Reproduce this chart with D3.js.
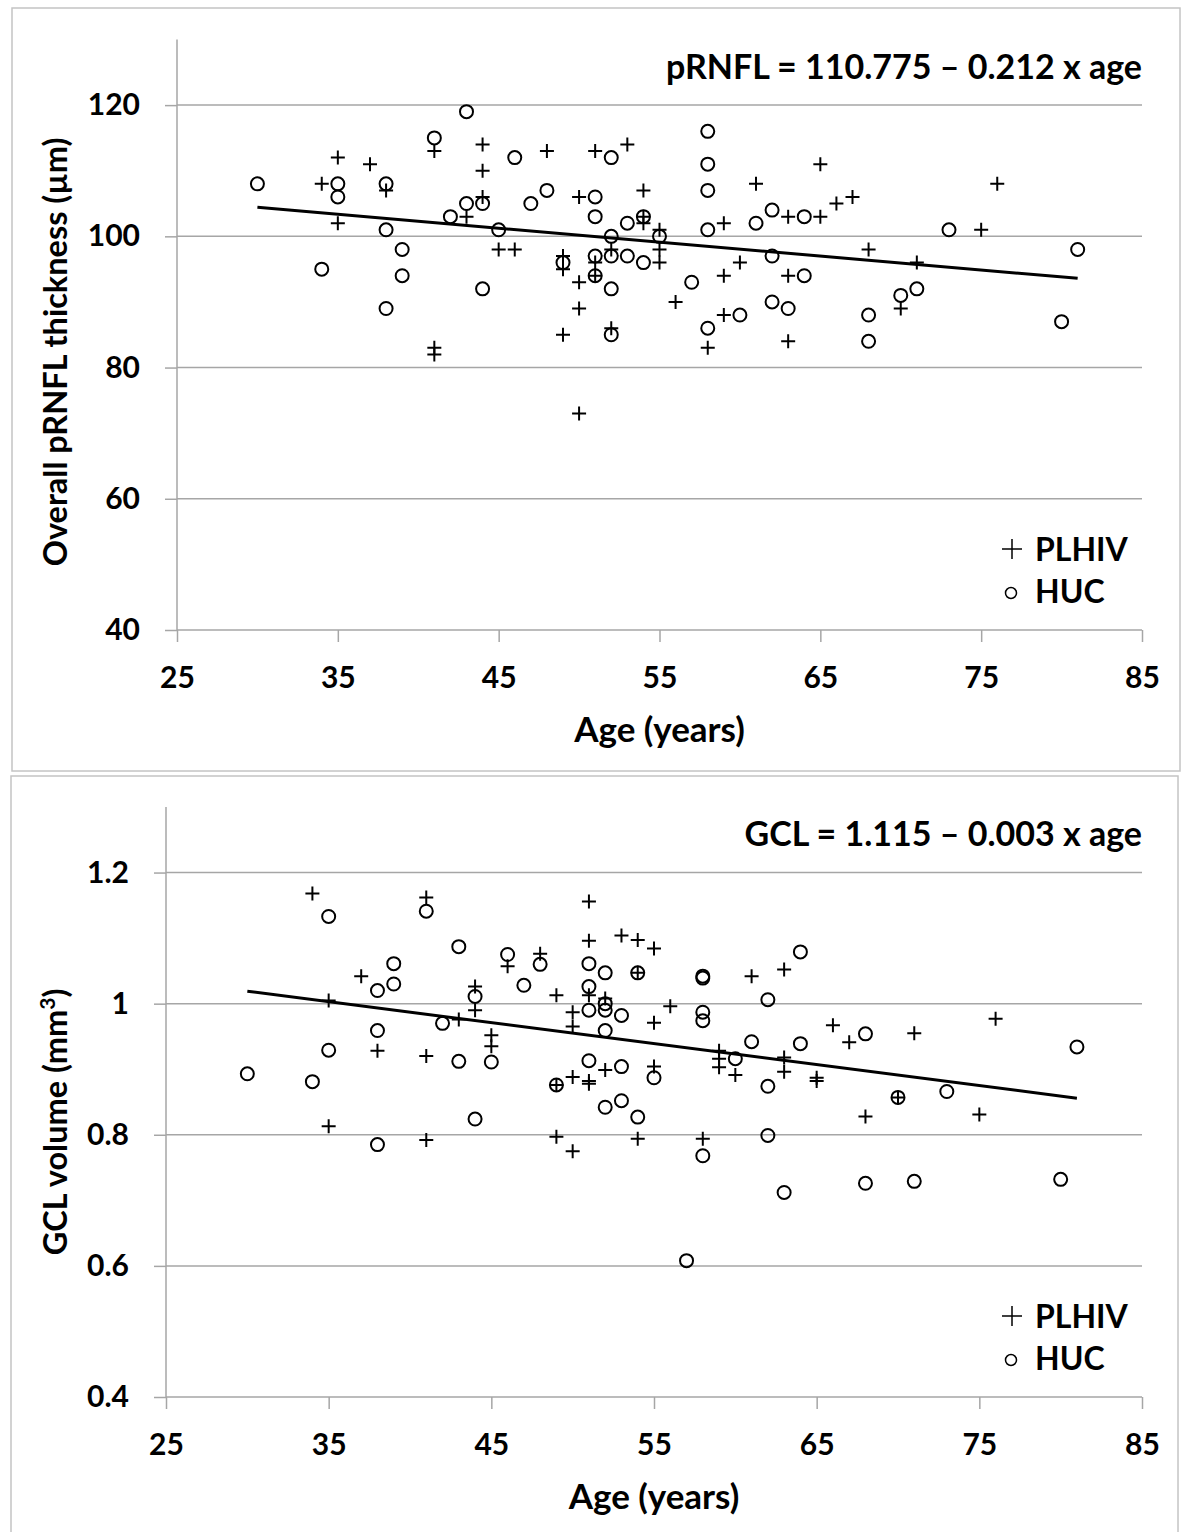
<!DOCTYPE html>
<html>
<head>
<meta charset="utf-8">
<script src="https://cdn.jsdelivr.net/npm/d3@7"></script>
<style>
  body { margin: 0; background: #fff; }
  svg text { font-family: Lato, "Open Sans", sans-serif; font-weight: bold; fill: #000; }
</style>
</head>
<body>
<div id="chart"></div>
<script>
// tick labels
const ageTicks = [25, 35, 45, 55, 65, 75, 85];
const rnflTicks = [40, 60, 80, 100, 120];
const gclTicks = [0.4, 0.6, 0.8, 1, 1.2];

// pRNFL panel: [age, thickness]
const plhivRnfl = [[34,108],[35,112],[35,102],[37,111],[38,107],[41,113],[41,83],[41,82],[43,103],[44,114],[44,110],[44,106],
  [45,98],[46,98],[48,113],[49,97],[49,95],[49,85],[50,106],[50,93],[50,89],[50,73],[51,113],[51,96],[51,94],[52,98],[52,86],
  [53,114],[54,107],[54,103],[54,102],[55,101],[55,98],[55,96],[56,90],[58,83],[59,102],[59,94],[59,88],[60,96],[61,108],
  [63,103],[63,94],[63,84],[65,111],[65,103],[66,105],[67,106],[68,98],[70,89],[71,96],[75,101],[76,108]];
const hucRnfl = [[30,108],[34,95],[35,108],[35,106],[38,108],[38,101],[38,89],[39,98],[39,94],[41,115],[42,103],[43,119],
  [43,105],[44,105],[44,92],[45,101],[46,112],[47,105],[48,107],[49,96],[51,106],[51,103],[51,97],[51,94],[52,112],[52,100],
  [52,97],[52,92],[52,85],[53,102],[53,97],[54,103],[54,96],[55,100],[57,93],[58,116],[58,111],[58,107],[58,101],[58,86],
  [60,88],[61,102],[62,104],[62,97],[62,90],[63,89],[64,103],[64,94],[68,88],[68,84],[70,91],[71,92],[73,101],[80,87],[81,98]];

// GCL panel: [age, volume]
const plhivGcl = [[34,1.168],[35,1.005],[35,0.813],[37,1.042],[38,0.928],[41,1.162],[41,0.920],[41,0.792],[43,0.976],
  [44,1.026],[44,0.990],[45,0.952],[45,0.935],[46,1.057],[48,1.076],[49,1.013],[49,0.876],[49,0.797],[50,0.987],[50,0.965],
  [50,0.888],[50,0.775],[51,1.156],[51,1.096],[51,1.013],[51,0.882],[51,0.878],[52,1.008],[52,0.899],[53,1.104],[54,1.097],
  [54,1.047],[54,0.794],[55,1.084],[55,0.971],[55,0.904],[56,0.996],[58,0.794],[59,0.928],[59,0.916],[59,0.903],[60,0.891],
  [61,1.042],[63,1.052],[63,0.918],[63,0.896],[65,0.887],[65,0.882],[66,0.967],[67,0.941],[68,0.828],[70,0.857],[71,0.955],
  [75,0.831],[76,0.977]];
const hucGcl = [[30,0.893],[34,0.881],[35,1.133],[35,0.929],[38,1.020],[38,0.959],[38,0.785],[39,1.061],[39,1.030],[41,1.141],
  [42,0.970],[43,1.087],[43,0.912],[44,1.011],[44,0.824],[45,0.911],[46,1.075],[47,1.028],[48,1.060],[49,0.876],[51,1.061],
  [51,1.026],[51,0.990],[51,0.913],[52,1.047],[52,1.000],[52,0.990],[52,0.959],[52,0.842],[53,0.982],[53,0.904],[53,0.852],
  [54,1.047],[54,0.827],[55,0.887],[57,0.608],[58,1.042],[58,1.039],[58,0.987],[58,0.974],[58,0.768],[60,0.916],[61,0.942],
  [62,1.006],[62,0.874],[62,0.799],[63,0.712],[64,1.079],[64,0.939],[68,0.954],[68,0.726],[70,0.857],[71,0.729],[73,0.866],
  [80,0.732],[81,0.934]];

// regression fits (intercept, slope) and age span of the line
const rnflFit = [110.775, -0.212];
const gclFit = [1.115, -0.0032];
const fitAges = [30, 81];

const svg = d3.select('#chart').append('svg')
  .attr('width', 1184)
  .attr('height', 1532);

const grey = '#a6a6a6';

function drawPanel(p) {
  // frame
  svg.append('rect')
    .attr('x', p.frame[0]).attr('y', p.frame[1])
    .attr('width', p.frame[2]).attr('height', p.frame[3])
    .attr('fill', 'none').attr('stroke', '#c4c4c4').attr('stroke-width', 1.5);

  const x = d3.scaleLinear().domain([25, 85]).range([p.left, 1142]);
  const y = d3.scaleLinear().domain(p.yDomain).range([p.bottom, p.top]);

  const g = svg.append('g');

  // gridlines
  g.selectAll('.grid').data(p.yTicks.slice(1)).enter().append('line')
    .attr('x1', p.left).attr('x2', x(85))
    .attr('y1', d => y(d)).attr('y2', d => y(d))
    .attr('stroke', grey).attr('stroke-width', 1.5);

  // axes
  const yAxis = g.append('g').attr('transform', `translate(${p.left},0)`)
    .call(d3.axisLeft(y).tickValues(p.yTicks).tickSize(12).tickPadding(25).tickFormat(p.yFormat));
  const xAxis = g.append('g').attr('transform', `translate(0,${p.bottom})`)
    .call(d3.axisBottom(x).tickValues(ageTicks).tickSize(12).tickPadding(25));
  [xAxis, yAxis].forEach(a => {
    a.select('.domain').remove();
    a.selectAll('line').attr('stroke', grey).attr('stroke-width', 1.5);
    a.selectAll('text').style('font-size', '30px').attr('fill', '#000');
  });
  g.append('line').attr('x1', p.left).attr('x2', p.left)
    .attr('y1', y(p.yDomain[1])).attr('y2', p.bottom)
    .attr('stroke', grey).attr('stroke-width', 1.5);
  g.append('line').attr('x1', p.left).attr('x2', x(85))
    .attr('y1', p.bottom).attr('y2', p.bottom)
    .attr('stroke', grey).attr('stroke-width', 1.5);

  // points
  g.selectAll('.huc').data(p.huc).enter().append('circle')
    .attr('cx', d => x(d[0])).attr('cy', d => y(d[1])).attr('r', 6.5)
    .attr('fill', 'none').attr('stroke', '#000').attr('stroke-width', 2);
  g.selectAll('.plhiv').data(p.plhiv).enter().append('path')
    .attr('d', d => `M${x(d[0]) - 7},${y(d[1])}h14M${x(d[0])},${y(d[1]) - 7}v14`)
    .attr('stroke', '#000').attr('stroke-width', 2);

  // fit line
  g.append('line')
    .attr('x1', x(fitAges[0])).attr('y1', y(p.fit[0] + p.fit[1] * fitAges[0]))
    .attr('x2', x(fitAges[1])).attr('y2', y(p.fit[0] + p.fit[1] * fitAges[1]))
    .attr('stroke', '#000').attr('stroke-width', 3);

  // equation
  g.append('text').attr('x', 1142).attr('y', p.top + 39)
    .attr('text-anchor', 'end').style('font-size', '34px').text(p.equation);

  // legend
  const lx = 1012, ly = p.bottom - 81;
  g.append('path').attr('d', `M${lx - 10},${ly}h20M${lx},${ly - 10}v20`)
    .attr('stroke', '#000').attr('stroke-width', 1.5);
  g.append('text').attr('x', 1035).attr('y', ly + 12).style('font-size', '32px').text('PLHIV');
  g.append('circle').attr('cx', lx - 1).attr('cy', ly + 44).attr('r', 5.5)
    .attr('fill', 'none').attr('stroke', '#000').attr('stroke-width', 1.5);
  g.append('text').attr('x', 1035).attr('y', ly + 54).style('font-size', '32px').text('HUC');

  // axis titles
  g.append('text').attr('x', (p.left + 1142) / 2).attr('y', p.bottom + 112)
    .attr('text-anchor', 'middle').style('font-size', '35px').text('Age (years)');
  const yt = g.append('text')
    .attr('transform', `translate(67,${p.yTitleMid}) rotate(-90)`)
    .attr('text-anchor', 'middle').style('font-size', '32.5px');
  p.yTitle(yt);
}

drawPanel({
  frame: [12, 8, 1168, 763],
  left: 177, top: 39.5, bottom: 630,
  yDomain: [40, 130], yTicks: rnflTicks, yFormat: d3.format('d'),
  plhiv: plhivRnfl, huc: hucRnfl, fit: rnflFit,
  equation: 'pRNFL = 110.775 \u2013 0.212 x age',
  yTitleMid: 352,
  yTitle: t => t.text('Overall pRNFL thickness (\u00b5m)')
});

drawPanel({
  frame: [11, 776, 1167, 770],
  left: 166, top: 807, bottom: 1397,
  yDomain: [0.4, 1.3], yTicks: gclTicks, yFormat: d => String(d),
  plhiv: plhivGcl, huc: hucGcl, fit: gclFit,
  equation: 'GCL = 1.115 \u2013 0.003 x age',
  yTitleMid: 1122,
  yTitle: t => {
    t.append('tspan').text('GCL volume (mm');
    t.append('tspan').attr('dy', -12).style('font-size', '21px').text('3');
    t.append('tspan').attr('dy', 12).text(')');
  }
});
</script>
</body>
</html>
